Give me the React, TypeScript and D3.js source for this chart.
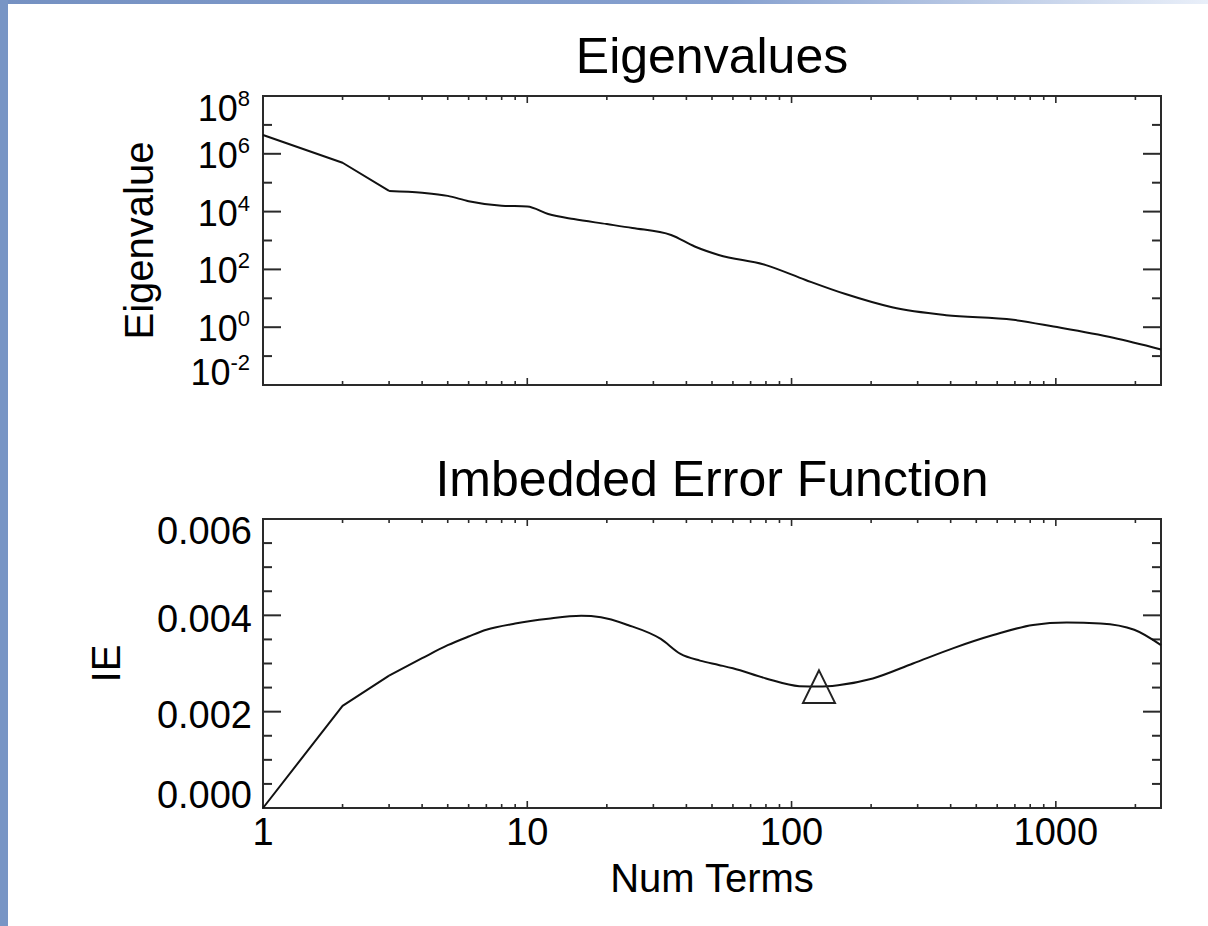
import React from 'react';
import * as d3 from 'd3';

// Eigenvalue spectrum: number of terms vs eigenvalue
const eigTerms = [1, 2, 3, 4, 5, 6, 8, 10, 12, 15, 20, 25, 35, 43, 53, 80, 113, 160, 240, 384, 690, 980, 1650, 2500];
const eigValues = [4.47e6, 4.9e5, 5.2e4, 4.5e4, 3.5e4, 2.3e4, 1.6e4, 1.5e4, 8.3e3, 5.5e3, 3.7e3, 2.7e3, 1.55e3, 620, 316, 141, 43, 14, 4.9, 2.6, 1.8, 1.05, 0.43, 0.17];

// Imbedded error function: number of terms vs IE
const ieTerms = [1, 2, 3, 4, 5, 6, 7, 9, 12, 16, 19, 24, 32, 38, 45, 53, 60, 80, 107, 127, 150, 203, 288, 410, 580, 820, 1100, 1475, 1980, 2500];
const ieValues = [0, 0.00212, 0.00275, 0.00311, 0.00338, 0.00356, 0.0037, 0.00383, 0.00393, 0.00399, 0.00396, 0.0038, 0.00351, 0.0032, 0.00306, 0.00297, 0.0029, 0.00269, 0.00253, 0.00252, 0.00255, 0.00269, 0.003, 0.00332, 0.00359, 0.0038, 0.00385, 0.00383, 0.0037, 0.00338];

// Selected number of factors (minimum of IE), marked with a triangle
const optimalTerms = 127;

const xTickLabels = ['1', '10', '100', '1000'];
const xTickValues = [1, 10, 100, 1000];
const eigTickExponents = ['8', '6', '4', '2', '0', '-2'];
const eigTickValues = [1e8, 1e6, 1e4, 1e2, 1, 1e-2];
const ieTickLabels = ['0.000', '0.002', '0.004', '0.006'];
const ieTickValues = [0, 0.002, 0.004, 0.006];

const W = 1208;
const H = 926;
const FONT = '"Liberation Sans", Arial, Helvetica, sans-serif';
const LEFT = 263;
const RIGHT = 1161;
const P1 = { top: 96, bottom: 385 };
const P2 = { top: 519, bottom: 808 };
const AXIS = '#2a2a2a';
const MID = (LEFT + RIGHT) / 2;

// The first few terms are discrete steps (drawn straight); beyond that the
// curves are dense enough to be drawn smoothly.
const SHARP_COUNT = 3;

export default function App() {
  const x = d3.scaleLog().domain([1, 2500]).range([LEFT, RIGHT]);
  const yEig = d3.scaleLog().domain([1e-2, 1e8]).range([P1.bottom, P1.top]);
  const yIE = d3.scaleLinear().domain([0, 0.006]).range([P2.bottom, P2.top]);

  const xTicks = x.ticks().filter((t) => t > 1 && t < 2500);
  const isDecade = (t: number) => Math.abs(Math.log10(t) - Math.round(Math.log10(t))) < 1e-9;

  const eigPts: [number, number][] = eigTerms.map((t, i) => [x(t), yEig(eigValues[i])]);
  const iePts: [number, number][] = ieTerms.map((t, i) => [x(t), yIE(ieValues[i])]);
  const straight = d3.line();
  const smooth = d3.line().curve(d3.curveMonotoneX);
  const curvePaths = (pts: [number, number][]) => [
    straight(pts.slice(0, SHARP_COUNT)) || '',
    smooth(pts.slice(SHARP_COUNT - 1)) || '',
  ];

  const optIdx = ieTerms.indexOf(optimalTerms);
  const mx = x(ieTerms[optIdx]);
  const my = yIE(ieValues[optIdx]);
  const tri = d3.path();
  tri.moveTo(mx, my - 16.3);
  tri.lineTo(mx + 16, my + 16.3);
  tri.lineTo(mx - 16, my + 16.3);
  tri.closePath();

  const eigDecades = d3.range(-2, 9).map((e) => Math.pow(10, e));
  const ieMinor = d3.range(0, 13).map((i) => i * 0.0005);

  const xTickMarks = (panel: { top: number; bottom: number }, key: string) =>
    xTicks.map((t) => {
      const len = isDecade(t) ? 7 : 4;
      const px = x(t);
      return (
        <g key={key + t}>
          <line x1={px} x2={px} y1={panel.bottom} y2={panel.bottom - len} stroke={AXIS} strokeWidth={1.6} />
          <line x1={px} x2={px} y1={panel.top} y2={panel.top + len} stroke={AXIS} strokeWidth={1.6} />
        </g>
      );
    });

  return (
    <svg
      width={W}
      height={H}
      viewBox={`0 0 ${W} ${H}`}
      style={{ position: 'absolute', left: 0, top: 0, display: 'block' }}
      fontFamily={FONT}
    >
      <defs>
        <linearGradient id="topBand" x1="0" x2="1" y1="0" y2="0">
          <stop offset="0" stopColor="#7591c2" />
          <stop offset="0.6" stopColor="#86a0cf" />
          <stop offset="1" stopColor="#e9eff9" />
        </linearGradient>
      </defs>
      <rect x={0} y={0} width={W} height={H} fill="#ffffff" />
      <rect x={0} y={0} width={W} height={4} fill="url(#topBand)" />
      <rect x={0} y={0} width={8} height={H} fill="#7895c5" />

      {/* Upper panel: eigenvalues */}
      <text x={MID} y={73} fontSize={50} textAnchor="middle" fill="#000">
        Eigenvalues
      </text>
      <rect x={LEFT} y={P1.top} width={RIGHT - LEFT} height={P1.bottom - P1.top} fill="none" stroke={AXIS} strokeWidth={2} />
      {eigDecades.map((v, i) => {
        const len = i % 2 === 0 ? 18 : 9;
        const py = yEig(v);
        return (
          <g key={'ey' + i}>
            <line x1={LEFT} x2={LEFT + len} y1={py} y2={py} stroke={AXIS} strokeWidth={2} />
            <line x1={RIGHT} x2={RIGHT - len} y1={py} y2={py} stroke={AXIS} strokeWidth={2} />
          </g>
        );
      })}
      {xTickMarks(P1, 'x1-')}
      {eigTickValues.map((v, i) => {
        const base = Math.min(Math.max(yEig(v) + 14, P1.top + 25), P1.bottom);
        return (
          <text key={'el' + i} x={250} y={base} fontSize={36} textAnchor="end" fill="#000">
            10
            <tspan fontSize={22} dy={-15}>
              {eigTickExponents[i]}
            </tspan>
          </text>
        );
      })}
      <text
        transform={`translate(153, ${(P1.top + P1.bottom) / 2}) rotate(-90)`}
        fontSize={40}
        textAnchor="middle"
        fill="#000"
      >
        Eigenvalue
      </text>
      {curvePaths(eigPts).map((d, i) => (
        <path key={'ec' + i} d={d} fill="none" stroke="#111" strokeWidth={2} strokeLinejoin="round" />
      ))}

      {/* Lower panel: imbedded error function */}
      <text x={MID} y={496} fontSize={50} textAnchor="middle" fill="#000">
        Imbedded Error Function
      </text>
      <rect x={LEFT} y={P2.top} width={RIGHT - LEFT} height={P2.bottom - P2.top} fill="none" stroke={AXIS} strokeWidth={2} />
      {ieMinor.map((v, i) => {
        const len = i % 4 === 0 ? 18 : 9;
        const py = yIE(v);
        return (
          <g key={'iy' + i}>
            <line x1={LEFT} x2={LEFT + len} y1={py} y2={py} stroke={AXIS} strokeWidth={2} />
            <line x1={RIGHT} x2={RIGHT - len} y1={py} y2={py} stroke={AXIS} strokeWidth={2} />
          </g>
        );
      })}
      {xTickMarks(P2, 'x2-')}
      {ieTickValues.map((v, i) => {
        const base = Math.min(Math.max(yIE(v) + 16.5, P2.top + 25), P2.bottom);
        return (
          <text key={'il' + i} x={252} y={base} fontSize={38} textAnchor="end" fill="#000">
            {ieTickLabels[i]}
          </text>
        );
      })}
      {xTickValues.map((v, i) => (
        <text key={'xl' + i} x={x(v)} y={845} fontSize={38} textAnchor="middle" fill="#000">
          {xTickLabels[i]}
        </text>
      ))}
      <text x={MID} y={892} fontSize={40} textAnchor="middle" fill="#000">
        Num Terms
      </text>
      <text
        transform={`translate(120, ${(P2.top + P2.bottom) / 2}) rotate(-90)`}
        fontSize={40}
        textAnchor="middle"
        fill="#000"
      >
        IE
      </text>
      {curvePaths(iePts).map((d, i) => (
        <path key={'ic' + i} d={d} fill="none" stroke="#111" strokeWidth={2} strokeLinejoin="round" />
      ))}
      <path d={tri.toString()} fill="none" stroke="#222" strokeWidth={2} />
    </svg>
  );
}
